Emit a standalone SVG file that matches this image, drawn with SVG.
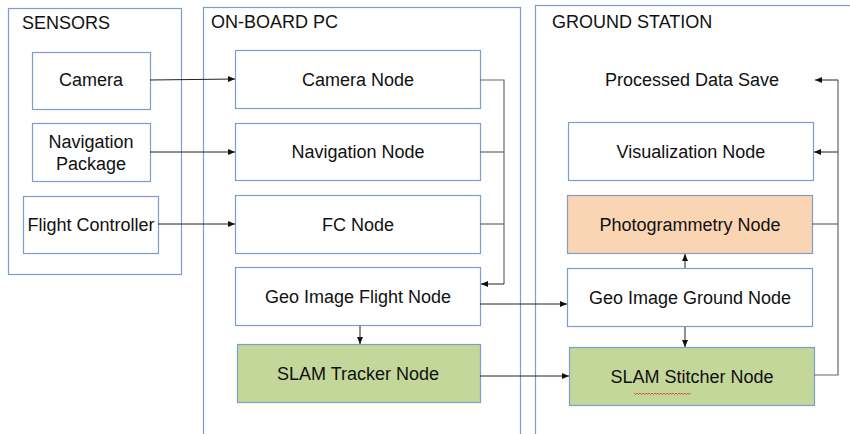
<svg xmlns="http://www.w3.org/2000/svg" width="850" height="434" viewBox="0 0 850 434">
<defs>
<style>
.grp{fill:#fff;stroke:#7f9dcc;stroke-width:1.2}
.box{fill:#fff;stroke:#7f9dcc;stroke-width:1.2}
.green{fill:#c4d79b}
.peach{fill:#f9d5b4}
text{font-family:"Liberation Sans",Arial,sans-serif;font-size:18px;fill:#111}
.c{text-anchor:middle}
.ln{fill:none;stroke:#666;stroke-width:1.2}
.ar{fill:none;stroke:#222;stroke-width:1}
</style>
<marker id="ah" markerWidth="8" markerHeight="8" refX="7" refY="4" orient="auto" markerUnits="userSpaceOnUse">
<path d="M0,1 L7,4 L0,7 Z" fill="#111"/>
</marker>
</defs>
<rect width="850" height="434" fill="#fff"/>
<g id="sensors">
<rect class="grp" x="8.5" y="8.5" width="173" height="266"/>
<text x="22" y="29">SENSORS</text>
</g>
<g id="onboard">
<rect class="grp" x="203.5" y="7.5" width="317" height="440"/>
<text x="211" y="28">ON-BOARD PC</text>
</g>
<g id="ground">
<rect class="grp" x="535.5" y="5.5" width="330" height="440"/>
<text x="552" y="28">GROUND STATION</text>
</g>
<g id="camera">
<rect class="box" x="32.5" y="52.5" width="118" height="57"/>
<text class="c" x="91" y="86">Camera</text>
</g>
<g id="navpkg">
<rect class="box" x="32.5" y="123.5" width="118" height="58"/>
<text class="c" x="91" y="148">Navigation</text>
<text class="c" x="91" y="170">Package</text>
</g>
<g id="fc">
<rect class="box" x="23.5" y="196.5" width="135" height="57"/>
<text class="c" x="91" y="231">Flight Controller</text>
</g>
<g id="cameranode">
<rect class="box" x="235.5" y="50.5" width="245" height="58"/>
<text class="c" x="358" y="86">Camera Node</text>
</g>
<g id="navnode">
<rect class="box" x="235.5" y="123.5" width="245" height="57"/>
<text class="c" x="358" y="158">Navigation Node</text>
</g>
<g id="fcnode">
<rect class="box" x="235.5" y="195.5" width="245" height="58"/>
<text class="c" x="358" y="231">FC Node</text>
</g>
<g id="geoflight">
<rect class="box" x="235.5" y="267.5" width="245" height="58"/>
<text class="c" x="358" y="303">Geo Image Flight Node</text>
</g>
<g id="slamtracker">
<rect class="box green" x="237.5" y="344.5" width="243" height="58"/>
<text class="c" x="358" y="380">SLAM Tracker Node</text>
</g>
<g id="processed">
<text class="c" x="692" y="86">Processed Data Save</text>
</g>
<g id="visnode">
<rect class="box" x="568.5" y="122.5" width="245" height="58"/>
<text class="c" x="691" y="158">Visualization Node</text>
</g>
<g id="photonode">
<rect class="box peach" x="567.5" y="195.5" width="245" height="58"/>
<text class="c" x="690" y="231">Photogrammetry Node</text>
</g>
<g id="geoground">
<rect class="box" x="567.5" y="268.5" width="245" height="58"/>
<text class="c" x="690" y="304">Geo Image Ground Node</text>
</g>
<g id="slamstitcher">
<rect class="box green" x="569.5" y="347.5" width="245" height="58"/>
<text class="c" x="692" y="383">SLAM Stitcher Node</text>
<path d="M634,393 l1.5,1.5 l1.5,-1.5 l1.5,1.5 l1.5,-1.5 l1.5,1.5 l1.5,-1.5 l1.5,1.5 l1.5,-1.5 l1.5,1.5 l1.5,-1.5 l1.5,1.5 l1.5,-1.5 l1.5,1.5 l1.5,-1.5 l1.5,1.5 l1.5,-1.5 l1.5,1.5 l1.5,-1.5 l1.5,1.5 l1.5,-1.5 l1.5,1.5 l1.5,-1.5 l1.5,1.5 l1.5,-1.5 l1.5,1.5 l1.5,-1.5 l1.5,1.5 l1.5,-1.5 l1.5,1.5 l1.5,-1.5 l1.5,1.5 l1.5,-1.5 l1.5,1.5 l1.5,-1.5 l1.5,1.5 l1.5,-1.5 l1.5,1.5 l1.5,-1.5" fill="none" stroke="#e03030" stroke-width="0.8"/>
</g>
<g id="connectors">
<path class="ar" d="M150,80 L235,79" marker-end="url(#ah)"/>
<path class="ar" d="M150,152 L235,152" marker-end="url(#ah)"/>
<path class="ar" d="M158,224 L235,224" marker-end="url(#ah)"/>
<path class="ln" d="M480,80 H504 V284"/>
<path class="ln" d="M480,152 H504"/>
<path class="ln" d="M480,224 H504"/>
<path class="ar" d="M504,284 H481" marker-end="url(#ah)"/>
<path class="ar" d="M480,304 H567" marker-end="url(#ah)"/>
<path class="ar" d="M360,326 V344" marker-end="url(#ah)"/>
<path class="ar" d="M480,376 H569" marker-end="url(#ah)"/>
<path class="ar" d="M685,327 V347" marker-end="url(#ah)"/>
<path class="ar" d="M685,268 V254" marker-end="url(#ah)"/>
<path class="ln" d="M814,375 H838 V80"/>
<path class="ln" d="M812,224 H838"/>
<path class="ar" d="M838,80 H815" marker-end="url(#ah)"/>
<path class="ar" d="M838,152 H814" marker-end="url(#ah)"/>
</g>
</svg>
